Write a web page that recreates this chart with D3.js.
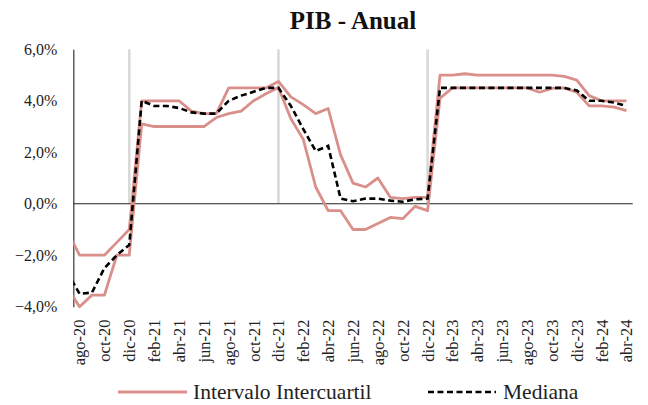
<!DOCTYPE html>
<html><head><meta charset="utf-8">
<script src="https://cdn.jsdelivr.net/npm/d3@7"></script>
<style>
html,body{margin:0;padding:0;background:#fff;}
text{font-family:"Liberation Serif","Times New Roman",serif;}
</style></head>
<body><svg id="c" width="648" height="405" font-family="Liberation Serif"></svg>
<script>
const months = ["jul-20","ago-20","sep-20","oct-20","nov-20","dic-20",
"ene-21","feb-21","mar-21","abr-21","may-21","jun-21","jul-21","ago-21","sep-21","oct-21","nov-21","dic-21",
"ene-22","feb-22","mar-22","abr-22","may-22","jun-22","jul-22","ago-22","sep-22","oct-22","nov-22","dic-22",
"ene-23","feb-23","mar-23","abr-23","may-23","jun-23","jul-23","ago-23","sep-23","oct-23","nov-23","dic-23",
"ene-24","feb-24","mar-24","abr-24"];
const tickLabels = ["ago-20","oct-20","dic-20","feb-21","abr-21","jun-21","ago-21","oct-21","dic-21","feb-22","abr-22","jun-22",
"ago-22","oct-22","dic-22","feb-23","abr-23","jun-23","ago-23","oct-23","dic-23","feb-24","abr-24"];
const upper = [-1.05,-2.0,-2.0,-2.0,-1.5,-1.0,
4.0,4.0,4.0,4.0,3.6,3.5,3.5,4.5,4.5,4.5,4.5,4.75,
4.15,3.85,3.5,3.7,1.9,0.8,0.65,1.0,0.25,0.2,0.25,0.25,
5.0,5.0,5.05,5.0,5.0,5.0,5.0,5.0,5.0,5.0,4.95,4.8,
4.2,4.0,4.0,4.0];
const lower = [-3.25,-4.0,-3.55,-3.55,-2.0,-2.0,
3.1,3.0,3.0,3.0,3.0,3.0,3.35,3.5,3.6,4.0,4.27,4.52,
3.3,2.5,0.65,-0.27,-0.27,-1.0,-1.0,-0.77,-0.53,-0.58,-0.1,-0.27,
4.1,4.5,4.5,4.5,4.5,4.5,4.5,4.5,4.33,4.48,4.5,4.33,
3.8,3.8,3.75,3.62];
const median = [-2.65,-3.5,-3.45,-2.5,-2.0,-1.6,
4.0,3.8,3.8,3.72,3.55,3.5,3.5,4.0,4.2,4.35,4.5,4.5,
3.8,2.9,2.05,2.25,0.2,0.1,0.2,0.2,0.12,0.08,0.17,0.2,
4.5,4.5,4.5,4.5,4.5,4.5,4.5,4.5,4.5,4.5,4.5,4.4,
4.0,4.0,3.93,3.8];
const markers = ["dic-20","dic-21","dic-22"];
const markerTop = 6;
const yTicks = [-4,-2,0,2,4,6];

const FONT = "Liberation Serif";
const svg = d3.select("#c");
const pink = "#d9908b";
const x = d3.scaleBand().domain(months).range([60.9, 632.7]).padding(0);
const cx = d => x(d) + x.bandwidth()/2;
const y = d3.scaleLinear().domain([-4,6]).range([306.7,49.3]);
const left = x("ago-20"), right = 632.7;

svg.append("defs").append("clipPath").attr("id","clip")
  .append("rect").attr("x",left).attr("y",0).attr("width",right-left).attr("height",405);

// title
svg.append("text").attr("x",(left+right)/2).attr("y",28.5).attr("text-anchor","middle")
  .attr("font-family",FONT).attr("font-size",25).attr("font-weight","bold").attr("fill","#111").text("PIB - Anual");

// marker lines
svg.append("g").selectAll("line").data(markers).join("line")
  .attr("x1",d=>cx(d)).attr("x2",d=>cx(d)).attr("y1",y(markerTop)).attr("y2",y(0))
  .attr("stroke","#d9d9d9").attr("stroke-width",2.6);

// y axis
const yAxis = svg.append("g").attr("transform",`translate(${left},0)`)
  .call(d3.axisLeft(y).tickValues(yTicks).tickSize(0).tickPadding(16)
    .tickFormat(d => d3.format(".1f")(d).replace(".",",") + "%"));
yAxis.attr("font-family",FONT);
yAxis.select(".domain").attr("stroke","#222").attr("stroke-width",1.1);
yAxis.selectAll("text").attr("font-size",16).attr("fill","#222").attr("font-family",FONT);

// x axis (zero line) and labels
svg.append("line").attr("x1",left).attr("x2",right).attr("y1",y(0)).attr("y2",y(0))
  .attr("stroke","#222").attr("stroke-width",1.1);
const xAxis = svg.append("g")
  .call(d3.axisBottom(d3.scalePoint().domain(months).range([cx(months[0]), cx(months[months.length-1])]))
    .tickValues(tickLabels).tickSize(0));
xAxis.attr("font-family",FONT);
xAxis.select(".domain").remove();
xAxis.selectAll("text").attr("transform","rotate(-90)").attr("x",-319.5).attr("y",0)
  .attr("dy","0.33em").attr("text-anchor","end").attr("font-size",16.5).attr("fill","#222").attr("font-family",FONT);

// lines
const line = d3.line().x((d,i)=>cx(months[i])).y(d=>y(d));
const g = svg.append("g").attr("clip-path","url(#clip)");
g.append("path").datum(upper).attr("d",line).attr("fill","none").attr("stroke",pink).attr("stroke-width",2.8).attr("stroke-linejoin","round");
g.append("path").datum(lower).attr("d",line).attr("fill","none").attr("stroke",pink).attr("stroke-width",2.8).attr("stroke-linejoin","round");
g.append("path").datum(median).attr("d",line).attr("fill","none").attr("stroke","#000").attr("stroke-width",2.6).attr("stroke-dasharray","6,3.5");

// legend
const lg = svg.append("g").attr("font-family",FONT);
lg.append("line").attr("x1",118).attr("x2",187).attr("y1",392).attr("y2",392).attr("stroke",pink).attr("stroke-width",3);
lg.append("text").attr("x",193).attr("y",398.5).attr("font-size",21.5).attr("fill","#222").text("Intervalo Intercuartil");
lg.append("line").attr("x1",428).attr("x2",496).attr("y1",392).attr("y2",392).attr("stroke","#000").attr("stroke-width",2.6).attr("stroke-dasharray","6,3.5");
lg.append("text").attr("x",503).attr("y",398.5).attr("font-size",21.5).attr("fill","#222").text("Mediana");
</script></body></html>
